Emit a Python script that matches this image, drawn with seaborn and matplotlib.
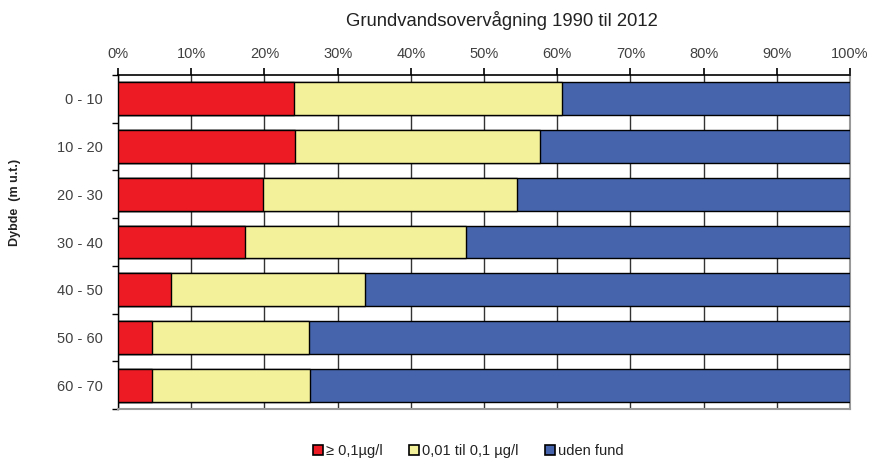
import matplotlib
matplotlib.use("Agg")
import matplotlib.pyplot as plt
from matplotlib.patches import Patch
import seaborn as sns
import pandas as pd
import numpy as np

depths = ["0 - 10", "10 - 20", "20 - 30", "30 - 40", "40 - 50", "50 - 60", "60 - 70"]
high = [24.1, 24.2, 19.8, 17.3, 7.3, 4.6, 4.7]          # >= 0,1 µg/l
low = [36.6, 33.4, 34.7, 30.3, 26.4, 21.5, 21.5]        # 0,01 til 0,1 µg/l
none = [39.3, 42.4, 45.5, 52.4, 66.3, 73.9, 73.8]       # uden fund

series_names = ["\u2265 0,1\u00b5g/l", "0,01 til 0,1 \u00b5g/l", "uden fund"]
colors = ["#ED1C24", "#F3F199", "#4564AC"]

df = pd.DataFrame({"depth": depths, "high": high, "low": low, "none": none})
df["c1"] = df["high"]
df["c2"] = df["high"] + df["low"]
df["c3"] = df["c2"] + df["none"]

sns.set_theme(style="white")
plt.rcParams["font.family"] = ["Liberation Sans", "DejaVu Sans"]

fig = plt.figure(figsize=(8.72, 4.59), dpi=100)
ax = fig.add_axes([118 / 872, 1 - 409 / 459, (850 - 118) / 872, (409 - 75) / 459])

# stacked horizontal bars: draw cumulative totals back to front
for col, color in zip(["c3", "c2", "c1"], colors[::-1]):
    sns.barplot(data=df, x=col, y="depth", order=depths, color=color,
                width=0.69, edgecolor="black", linewidth=1.0, ax=ax,
                saturation=1, zorder=3)

ax.set_xlim(0, 100)
ax.set_ylim(len(depths) - 0.5, -0.5)
ax.set_xticks(np.arange(0, 101, 10))
ax.set_xticklabels([f"{v}%" for v in range(0, 101, 10)], fontsize=10.5, color="#404040")
ax.xaxis.tick_top()
ax.tick_params(axis="x", which="major", top=True, bottom=False, length=5,
               width=1.2, color="black", pad=5, direction="out")
ax.grid(axis="x", color="#333333", linewidth=1.0, zorder=0)
ax.set_axisbelow(True)

ax.set_yticks(range(len(depths)))
ax.set_yticklabels(depths, fontsize=10.5, color="#404040")
ax.set_yticks(np.arange(-0.5, len(depths), 1), minor=True)
ax.tick_params(axis="y", which="major", length=0, pad=11)
ax.tick_params(axis="y", which="minor", left=True, length=4, width=1, color="black")

ax.set_xlabel("")
ax.set_ylabel("")
for side in ["right", "bottom"]:
    ax.spines[side].set_color("#999999")
    ax.spines[side].set_linewidth(1.5)
ax.spines["left"].set_color("black")
ax.spines["left"].set_linewidth(1.0)
ax.spines["top"].set_color("black")
ax.spines["top"].set_linewidth(1.2)

fig.text(502 / 872, 1 - 20 / 459, "Grundvandsovervågning 1990 til 2012",
         ha="center", va="center", fontsize=13.3, color="#222222")
fig.text(15 / 872, 1 - 202 / 459, "Dybde  (m u.t.)", rotation=90,
         ha="center", va="center", fontsize=9, fontweight="bold", color="#222222")

handles = [Patch(facecolor=c, edgecolor="black", linewidth=1.2) for c in colors]
fig.legend(handles, series_names, loc="center", bbox_to_anchor=(468 / 872, 1 - 451 / 459),
           ncol=3, frameon=False, fontsize=10.5, handlelength=0.7, handleheight=0.7,
           handletextpad=0.2, columnspacing=1.8, labelcolor="#222222")

fig.savefig("out.png", dpi=100)
